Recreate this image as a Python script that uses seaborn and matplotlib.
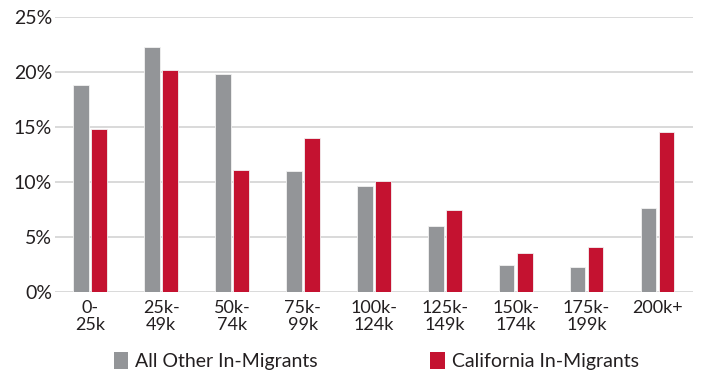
import matplotlib
matplotlib.use("Agg")
import matplotlib.pyplot as plt
from matplotlib.patches import Patch
import seaborn as sns
import pandas as pd

categories = ["0-\n25k", "25k-\n49k", "50k-\n74k", "75k-\n99k", "100k-\n124k",
              "125k-\n149k", "150k-\n174k", "175k-\n199k", "200k+"]
all_other = [18.8, 22.3, 19.8, 10.95, 9.6, 5.97, 2.39, 2.21, 7.6]
california = [14.8, 20.2, 11.06, 14.0, 10.03, 7.48, 3.48, 4.09, 14.5]
series_names = ["All Other In-Migrants", "California In-Migrants"]
colors = ["#939598", "#C41230"]
y_ticks = [0, 5, 10, 15, 20, 25]

df = pd.DataFrame({
    "bracket": categories * 2,
    "share": all_other + california,
    "group": [series_names[0]] * len(categories) + [series_names[1]] * len(categories),
})

sns.set_theme(style="white")
plt.rcParams["font.family"] = ["Lato", "DejaVu Sans"]

fig = plt.figure(figsize=(7.02, 3.75), dpi=100)
ax = fig.add_axes([0.078, 0.222, 0.909, 0.733])

sns.barplot(data=df, x="bracket", y="share", hue="group", order=categories,
            hue_order=series_names, palette=colors, saturation=1, width=0.51, gap=0.13,
            edgecolor="#f2f2f2", linewidth=0.6, legend=False, ax=ax, zorder=3)

ax.set_ylim(0, 25)
ax.set_xlim(-0.5, len(categories) - 0.5)
ax.set_yticks(y_ticks)
ax.set_yticklabels([f"{t}%" for t in y_ticks])
ax.yaxis.grid(True, color="#d9d9d9", linewidth=1.4, zorder=0)
ax.set_axisbelow(True)
for s in ax.spines.values():
    s.set_visible(False)
ax.set_xlabel("")
ax.set_ylabel("")
ax.tick_params(axis="y", labelsize=14, pad=2, length=0, colors="#231f20")
ax.tick_params(axis="x", labelsize=13, pad=6, length=0, colors="#231f20")
for lbl in ax.get_xticklabels():
    lbl.set_linespacing(1.05)

handles = [Patch(facecolor=c, edgecolor="none") for c in colors]
fig.legend(handles, series_names, loc="center", bbox_to_anchor=(0.536, 0.037),
           ncol=2, frameon=False, fontsize=14, handlelength=0.75, handleheight=0.95,
           handletextpad=0.35, columnspacing=5.8, labelcolor="#231f20")

fig.savefig("out.png", dpi=100, facecolor="white")
